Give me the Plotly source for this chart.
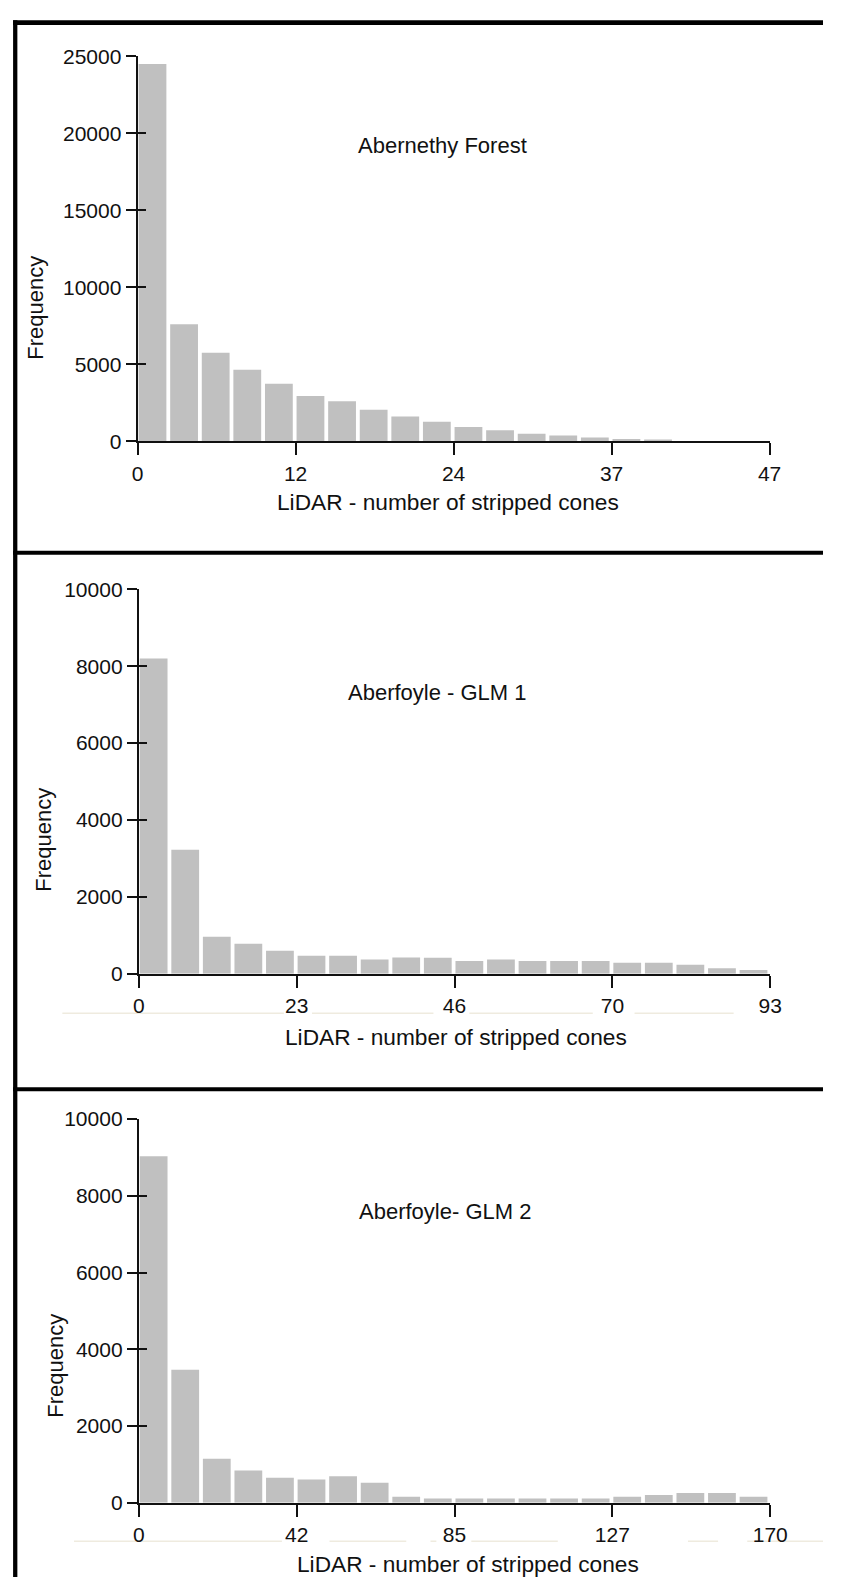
import plotly.graph_objects as go

W, H = 841, 1588

# ---------------- data ----------------
bins = list(range(20))  # 20 histogram bins per panel (bin index)

counts_abernethy = [24500, 7600, 5750, 4650, 3750, 2950, 2600, 2050, 1620, 1280,
                    940, 730, 490, 385, 255, 150, 125, 0, 0, 0]
counts_glm1 = [8200, 3230, 965, 785, 600, 470, 470, 375, 425, 420,
               333, 375, 333, 333, 333, 290, 290, 240, 145, 100]
counts_glm2 = [9030, 3467, 1148, 840, 650, 608, 693, 520, 157, 110,
               110, 110, 110, 110, 110, 160, 205, 257, 257, 160]

xticks_abernethy = ["0", "12", "24", "37", "47"]
xticks_glm1 = ["0", "23", "46", "70", "93"]
xticks_glm2 = ["0", "42", "85", "127", "170"]

yticks_abernethy = [0, 5000, 10000, 15000, 20000, 25000]
yticks_glm = [0, 2000, 4000, 6000, 8000, 10000]

titles = ["Abernethy Forest", "Aberfoyle - GLM 1", "Aberfoyle- GLM 2"]
xlabel = "LiDAR - number of stripped cones"
ylabel = "Frequency"

# ---------------- layout geometry (pixels) ----------------
def px(x):
    return x / W

def py(y):
    return 1 - y / H

panels = [
    dict(counts=counts_abernethy, xt=xticks_abernethy, yt=yticks_abernethy,
         x0=135.5, x1=786.0, ytop=45.0, ybot=435.7,
         title_xy=(449, 135), xlab_xy=(454.5, 497), ylab_xy=(31, 300)),
    dict(counts=counts_glm1, xt=xticks_glm1, yt=yticks_glm,
         x0=136.7, x1=786.7, ytop=585.7, ybot=976.0,
         title_xy=(444, 690), xlab_xy=(463.5, 1040), ylab_xy=(39, 840)),
    dict(counts=counts_glm2, xt=xticks_glm2, yt=yticks_glm,
         x0=136.7, x1=786.7, ytop=1123.3, ybot=1512.7,
         title_xy=(452, 1217), xlab_xy=(475.8, 1575), ylab_xy=(51, 1374)),
]

FONT = "Liberation Sans, Arial, sans-serif"
fig = go.Figure()
layout = dict(
    width=W, height=H, margin=dict(l=0, r=0, t=0, b=0),
    paper_bgcolor="white", plot_bgcolor="white", showlegend=False,
    annotations=[], shapes=[],
)

for i, p in enumerate(panels):
    n = i + 1
    xa = "x" if n == 1 else f"x{n}"
    ya = "y" if n == 1 else f"y{n}"
    yo = f"y{n + 3}"  # overlay axis for inner half of crossing ticks
    fig.add_trace(go.Bar(
        x=bins, y=p["counts"], width=0.88, offset=0.03,
        marker=dict(color="#c0c0c0", line=dict(width=0)),
        xaxis=xa, yaxis=ya, hoverinfo="x+y",
    ))
    fig.add_trace(go.Scatter(x=[], y=[], xaxis=xa, yaxis=yo, showlegend=False))

    ymax = p["yt"][-1]
    layout["xaxis" if n == 1 else f"xaxis{n}"] = dict(
        domain=[px(p["x0"]), px(p["x1"])], anchor=ya, range=[0, 20],
        tickmode="array", tickvals=[0, 5, 10, 15, 20], ticktext=p["xt"],
        ticks="outside", ticklen=12, tickwidth=2, tickcolor="#111",
        showline=True, linecolor="#111", linewidth=2,
        showgrid=False, zeroline=False, fixedrange=True,
        tickfont=dict(family=FONT, size=21, color="#111"),
    )
    layout["yaxis" if n == 1 else f"yaxis{n}"] = dict(
        domain=[py(p["ybot"]), py(p["ytop"])], anchor=xa, range=[0, ymax],
        tickmode="array", tickvals=p["yt"], ticktext=[str(v) for v in p["yt"]],
        ticks="outside", ticklen=10, tickwidth=2, tickcolor="#111",
        showline=True, linecolor="#111", linewidth=2,
        showgrid=False, zeroline=False, fixedrange=True,
        tickfont=dict(family=FONT, size=21, color="#111"),
    )
    layout[f"yaxis{n + 3}"] = dict(
        overlaying=ya, anchor=xa, side="left", range=[0, ymax],
        tickmode="array", tickvals=p["yt"], showticklabels=False,
        ticks="inside", ticklen=8, tickwidth=2, tickcolor="#111",
        showline=False, showgrid=False, zeroline=False, fixedrange=True,
    )

    tx, ty = p["title_xy"]
    layout["annotations"].append(dict(
        text=titles[i], x=px(tx), y=py(ty), xref="paper", yref="paper",
        xanchor="center", yanchor="middle", showarrow=False,
        font=dict(family=FONT, size=22, color="#111")))
    lx, ly = p["xlab_xy"]
    layout["annotations"].append(dict(
        text=xlabel, x=px(lx), y=py(ly), xref="paper", yref="paper",
        xanchor="center", yanchor="middle", showarrow=False,
        font=dict(family=FONT, size=22.7, color="#111")))
    fx, fy = p["ylab_xy"]
    layout["annotations"].append(dict(
        text=ylabel, x=px(fx), y=py(fy), xref="paper", yref="paper",
        xanchor="center", yanchor="middle", showarrow=False, textangle=-90,
        font=dict(family=FONT, size=22, color="#111")))

# black frame (left + top + separators)
def rect(x0, y0, x1, y1, color="black"):
    return dict(type="rect", xref="paper", yref="paper",
                x0=px(x0), x1=px(x1), y0=py(y1), y1=py(y0),
                fillcolor=color, line=dict(width=0), layer="above")

layout["shapes"] += [
    rect(7.3, 8.3, W, 13.3),
    rect(7.3, 8.3, 11.7, H),
    rect(7.3, 546.7, W, 550.7),
    rect(7.3, 1091, W, 1095),
]

# faint artefact lines under the tick labels of the lower panels
def faint(x0, x1, y):
    return dict(type="line", xref="paper", yref="paper",
                x0=px(x0), x1=px(x1), y0=py(y), y1=py(y),
                line=dict(color="#efebdf", width=1.5), layer="below")

for a, b in [(58, 286), (315, 440), (477, 604), (647, 749)]:
    layout["shapes"].append(faint(a, b, 1016))
for a, b in [(70, 284), (333, 412), (437, 443), (479, 568), (702, 733), (763, 841)]:
    layout["shapes"].append(faint(a, b, 1551.7))

fig.update_layout(**layout)
fig.write_html(
    "out.html",
    config=dict(displayModeBar=False),
    post_script=(
        "document.documentElement.style.margin='0';"
        "document.body.style.margin='0';document.body.style.padding='0';"
        "document.documentElement.style.overflow='hidden';"
        "var d=document.getElementById('{plot_id}');"
        "d.style.position='absolute';d.style.left='0px';d.style.top='0px';"
    ),
)
